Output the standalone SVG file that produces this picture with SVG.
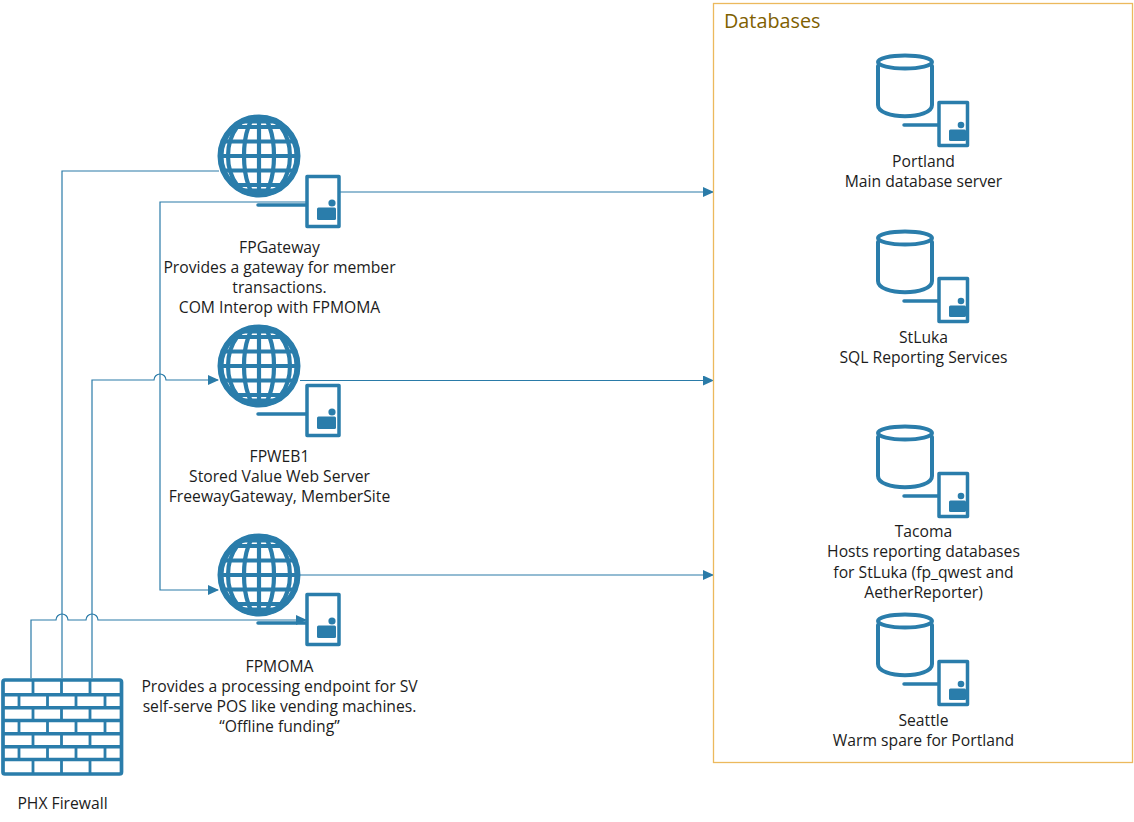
<svg xmlns="http://www.w3.org/2000/svg" xmlns:xlink="http://www.w3.org/1999/xlink" width="1134" height="822" viewBox="0 0 1134 822">
<style>
text{font-family:"Open Sans","Noto Sans","Liberation Sans",sans-serif;font-size:15.7px;fill:#1c1c1c;text-anchor:middle}
.t{font-size:19.8px;fill:#7f6000;text-anchor:start}
.c{fill:none;stroke:#2a7ba8;stroke-width:1.2}
.i{fill:none;stroke:#2a7dab;stroke-linecap:round;stroke-linejoin:round}
.f{fill:#2a7dab}
</style>
<defs>
<marker id="a" markerWidth="11" markerHeight="10" refX="10" refY="5" orient="auto" markerUnits="userSpaceOnUse"><path d="M0 0L11 5L0 10Z" fill="#2a7ba8"/></marker>
<clipPath id="gc"><circle cx="259" cy="156" r="41"/></clipPath>
<g id="globe">
<circle cx="259" cy="156" r="38.500" class="i" stroke-width="6" fill="#fff"/>
<g clip-path="url(#gc)" class="i" stroke-width="4.200">
<path d="M259 115V197M218 156H300M218 141.500H300M218 170.500H300M224 127H294M224 185H294M236 121.500H282M236 190.500H282" stroke-linecap="butt"/>
<ellipse cx="259" cy="156" rx="15" ry="41"/><ellipse cx="259" cy="156" rx="31" ry="41"/>
</g>
</g>
<g id="srv">
<rect x="307" y="176.500" width="32" height="50" class="i" stroke-width="3.500" fill="#fff"/>
<path d="M258 205H306" class="i" stroke-width="3.500"/>
<circle cx="332" cy="203" r="3.600" class="f"/>
<rect x="317" y="207.500" width="19" height="12.500" rx="1.500" class="f"/>
</g>
<g id="db">
<path d="M878 66V105C878 120 932 120 932 105V66" class="i" stroke-width="4" fill="#fff"/>
<ellipse cx="905" cy="62" rx="27" ry="6.500" class="i" stroke-width="4" fill="#fff"/>
<rect x="939" y="102.500" width="28.500" height="43" class="i" stroke-width="3.500" fill="#fff"/>
<path d="M904 125H938" class="i" stroke-width="3.500"/>
<circle cx="961" cy="125" r="3.300" class="f"/>
<rect x="949" y="129.500" width="17" height="11.500" rx="1.500" class="f"/>
</g>
</defs>

<g id="connectors">
<path class="c" d="M219 171H62V678"/>
<path class="c" d="M92 678V380H154a6 6 0 0 1 12 0H218" marker-end="url(#a)"/>
<path class="c" d="M306 202H160V590H218" marker-end="url(#a)"/>
<path class="c" d="M31 678V620H56a6 6 0 0 1 12 0H86a6 6 0 0 1 12 0H306" marker-end="url(#a)"/>
<path class="c" d="M340 192H713" marker-end="url(#a)"/>
<path class="c" d="M300 380.500H713" marker-end="url(#a)"/>
<path class="c" d="M300 575H713" marker-end="url(#a)"/>
</g>

<g id="databases-container">
<rect x="713.500" y="3.500" width="419" height="759" fill="none" stroke="#ecb95d" stroke-width="1.300"/>
<text class="t" x="724" y="28">Databases</text>
</g>

<g id="fpgateway">
<use xlink:href="#globe" href="#globe"/><use xlink:href="#srv" href="#srv"/>
<text x="279.500" y="253">FPGateway</text>
<text x="279.500" y="273">Provides a gateway for member</text>
<text x="279.500" y="293">transactions.</text>
<text x="279.500" y="313">COM Interop with FPMOMA</text>
</g>
<g id="fpweb1">
<use xlink:href="#globe" href="#globe" y="210"/><use xlink:href="#srv" href="#srv" y="209"/>
<text x="279.500" y="462">FPWEB1</text>
<text x="279.500" y="482">Stored Value Web Server</text>
<text x="279.500" y="502">FreewayGateway, MemberSite</text>
</g>
<g id="fpmoma">
<use xlink:href="#globe" href="#globe" y="419"/><use xlink:href="#srv" href="#srv" y="418"/>
<text x="279.500" y="672">FPMOMA</text>
<text x="279.500" y="692">Provides a processing endpoint for SV</text>
<text x="279.500" y="712">self-serve POS like vending machines.</text>
<text x="279.500" y="732">“Offline funding”</text>
</g>

<g id="portland">
<use xlink:href="#db" href="#db"/>
<text x="923.500" y="167">Portland</text>
<text x="923.500" y="187">Main database server</text>
</g>
<g id="stluka">
<use xlink:href="#db" href="#db" y="176"/>
<text x="923.500" y="343">StLuka</text>
<text x="923.500" y="363">SQL Reporting Services</text>
</g>
<g id="tacoma">
<use xlink:href="#db" href="#db" y="371"/>
<text x="923.500" y="537">Tacoma</text>
<text x="923.500" y="557">Hosts reporting databases</text>
<text x="923.500" y="578">for StLuka (fp_qwest and</text>
<text x="923.500" y="598">AetherReporter)</text>
</g>
<g id="seattle">
<use xlink:href="#db" href="#db" y="559"/>
<text x="923.500" y="726">Seattle</text>
<text x="923.500" y="746">Warm spare for Portland</text>
</g>

<g id="phx-firewall">
<rect x="3" y="680" width="118.500" height="94" rx="2" fill="#fff" stroke="#2a7dab" stroke-width="3.700"/>
<path stroke="#2a7dab" stroke-width="3.500" fill="none" d="M3 694.700H121M3 707.700H121M3 720.500H121M3 733.700H121M3 746.700H121M3 759.500H121"/>
<path stroke="#2a7dab" stroke-width="2.800" fill="none" d="M33 680V694M61.500 680V694M90 680V694M19 695V707M47.500 695V707M76 695V707M105 695V707M33 708V720M61.500 708V720M90 708V720M19 721V733M47.500 721V733M76 721V733M105 721V733M33 734V746M61.500 734V746M90 734V746M19 747V759M47.500 747V759M76 747V759M105 747V759M33 760V774M61.500 760V774M90 760V774"/>
<text x="62.500" y="809">PHX Firewall</text>
</g>
</svg>
